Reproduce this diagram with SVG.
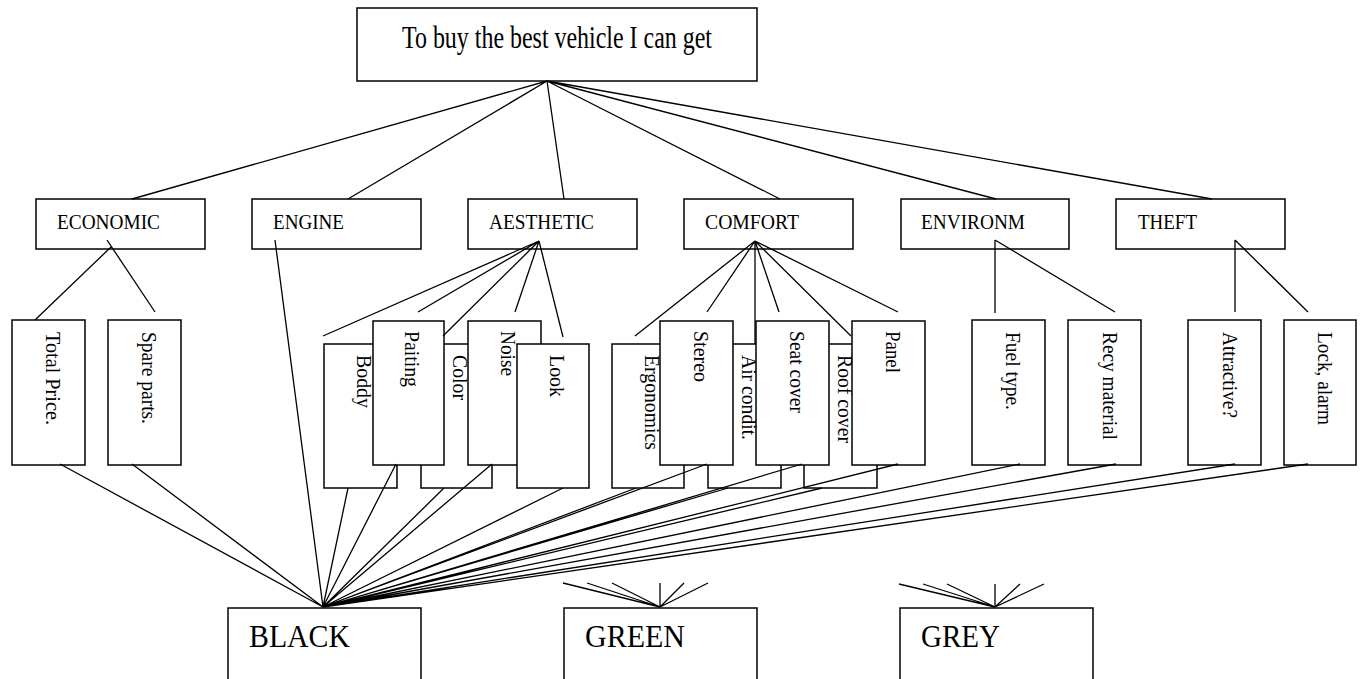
<svg xmlns="http://www.w3.org/2000/svg" width="1362" height="679" viewBox="0 0 1362 679">
<style>
.box{fill:#fff;stroke:#000;stroke-width:1.5}
.ln{stroke:#000;stroke-width:1.3;fill:none}
.t{font-family:"Liberation Serif","Times New Roman",serif;fill:#000}
.c{font-size:20px}
.v{font-size:22px}
.b{font-size:32px}
</style>
<rect width="1362" height="679" fill="#fff"/>
<g id="goal"><rect class="box" x="357" y="8" width="400" height="73"/><text class="t" x="402" y="48" font-size="31" textLength="310" lengthAdjust="spacingAndGlyphs">To buy the best vehicle I can get</text></g>
<g id="economic"><rect class="box" x="36" y="199" width="169" height="50"/><text class="t c" x="57" y="229" textLength="103" lengthAdjust="spacingAndGlyphs">ECONOMIC</text></g>
<g id="engine"><rect class="box" x="252" y="199" width="169" height="50"/><text class="t c" x="273" y="229" textLength="71" lengthAdjust="spacingAndGlyphs">ENGINE</text></g>
<g id="aesthetic"><rect class="box" x="468" y="199" width="169" height="50"/><text class="t c" x="489" y="229" textLength="105" lengthAdjust="spacingAndGlyphs">AESTHETIC</text></g>
<g id="comfort"><rect class="box" x="684" y="199" width="169" height="50"/><text class="t c" x="705" y="229" textLength="94" lengthAdjust="spacingAndGlyphs">COMFORT</text></g>
<g id="environm"><rect class="box" x="901" y="199" width="168" height="50"/><text class="t c" x="921" y="229" textLength="104" lengthAdjust="spacingAndGlyphs">ENVIRONM</text></g>
<g id="theft"><rect class="box" x="1116" y="199" width="169" height="50"/><text class="t c" x="1138" y="229" textLength="59" lengthAdjust="spacingAndGlyphs">THEFT</text></g>
<g id="total-price"><rect class="box" x="12" y="320" width="73" height="145"/><text class="t v" transform="translate(46,332) rotate(90)" textLength="93" lengthAdjust="spacingAndGlyphs">Total Price.</text></g>
<g id="spare-parts"><rect class="box" x="108" y="320" width="73" height="145"/><text class="t v" transform="translate(142,332) rotate(90)" textLength="92" lengthAdjust="spacingAndGlyphs">Spare parts.</text></g>
<g id="boddy"><rect class="box" x="324" y="344" width="73" height="144"/><text class="t v" transform="translate(357,355) rotate(90)" textLength="53" lengthAdjust="spacingAndGlyphs">Boddy</text></g>
<g id="color"><rect class="box" x="421" y="344" width="71" height="144"/><text class="t v" transform="translate(453,355) rotate(90)" textLength="45" lengthAdjust="spacingAndGlyphs">Color</text></g>
<g id="paiting"><rect class="box" x="373" y="321" width="71" height="144"/><text class="t v" transform="translate(405,331) rotate(90)" textLength="56" lengthAdjust="spacingAndGlyphs">Paiting</text></g>
<g id="noise"><rect class="box" x="468" y="321" width="73" height="144"/><text class="t v" transform="translate(501,331) rotate(90)" textLength="45" lengthAdjust="spacingAndGlyphs">Noise</text></g>
<g id="look"><rect class="box" x="517" y="344" width="72" height="144"/><text class="t v" transform="translate(550,355) rotate(90)" textLength="42" lengthAdjust="spacingAndGlyphs">Look</text></g>
<g id="ergonomics"><rect class="box" x="612" y="344" width="72" height="144"/><text class="t v" transform="translate(645,355) rotate(90)" textLength="95" lengthAdjust="spacingAndGlyphs">Ergonomics</text></g>
<g id="air-condit"><rect class="box" x="708" y="344" width="73" height="144"/><text class="t v" transform="translate(742,355) rotate(90)" textLength="85" lengthAdjust="spacingAndGlyphs">Air condit.</text></g>
<g id="roof-cover"><rect class="box" x="804" y="344" width="73" height="144"/><text class="t v" transform="translate(838,355) rotate(90)" textLength="88" lengthAdjust="spacingAndGlyphs">Roof cover</text></g>
<g id="stereo"><rect class="box" x="660" y="321" width="73" height="144"/><text class="t v" transform="translate(694,331) rotate(90)" textLength="51" lengthAdjust="spacingAndGlyphs">Stereo</text></g>
<g id="seat-cover"><rect class="box" x="756" y="321" width="73" height="144"/><text class="t v" transform="translate(790,331) rotate(90)" textLength="82" lengthAdjust="spacingAndGlyphs">Seat cover</text></g>
<g id="panel"><rect class="box" x="852" y="321" width="73" height="144"/><text class="t v" transform="translate(886,331) rotate(90)" textLength="42" lengthAdjust="spacingAndGlyphs">Panel</text></g>
<g id="fuel-type"><rect class="box" x="972" y="320" width="73" height="145"/><text class="t v" transform="translate(1006,332) rotate(90)" textLength="78" lengthAdjust="spacingAndGlyphs">Fuel type.</text></g>
<g id="recy-material"><rect class="box" x="1068" y="320" width="73" height="145"/><text class="t v" transform="translate(1103,332) rotate(90)" textLength="108" lengthAdjust="spacingAndGlyphs">Recy material</text></g>
<g id="attractive"><rect class="box" x="1188" y="320" width="73" height="145"/><text class="t v" transform="translate(1223,332) rotate(90)" textLength="86" lengthAdjust="spacingAndGlyphs">Attractive?</text></g>
<g id="lock-alarm"><rect class="box" x="1284" y="320" width="72" height="145"/><text class="t v" transform="translate(1318,332) rotate(90)" textLength="93" lengthAdjust="spacingAndGlyphs">Lock, alarm</text></g>
<g id="black"><rect class="box" x="228" y="608" width="193" height="90"/><text class="t b" x="249" y="647" textLength="101" lengthAdjust="spacingAndGlyphs">BLACK</text></g>
<g id="green"><rect class="box" x="564" y="608" width="193" height="90"/><text class="t b" x="585" y="647" textLength="100" lengthAdjust="spacingAndGlyphs">GREEN</text></g>
<g id="grey"><rect class="box" x="900" y="608" width="193" height="90"/><text class="t b" x="921" y="647" textLength="79" lengthAdjust="spacingAndGlyphs">GREY</text></g>
<g id="connectors" class="ln">
<path d="M547 81L132 199M547 81L348 199M547 81L564 199M547 81L780 199M547 81L996 199M547 81L1212 199"/>
<path d="M107 240L155 312M111 247L35 320"/>
<path d="M539 241L323 336M539 241L418 312M539 241L443 336M539 241L515 312M539 241L563 337"/>
<path d="M755 241L635 336M755 241L707 312M755 241L755 344M755 241L779 312M755 241L851 336M755 241L898 312"/>
<path d="M995 240L995 313M995 240L1115 312M1235 240L1235 312M1235 240L1308 312"/>
<path d="M60 464L323 607M132 464L323 607M275 240L323 607M348 488L323 607M396 464L323 607M444 488L323 607M492 464L323 607M563 488L323 607M636 488L323 607M707 464L323 607M728 488L323 607M802 464L323 607M822 488L323 607M898 464L323 607M1020 464L323 607M1116 464L323 607M1235 464L323 607M1308 464L323 607"/>
<path d="M660 607L563 583M660 607L587 583M660 607L612 583M660 607L660 583M660 607L684 583M660 607L708 583"/>
<path d="M995 607L899 584M995 607L923 584M995 607L947 584M995 607L995 584M995 607L1020 584M995 607L1044 584"/>
</g>
</svg>
